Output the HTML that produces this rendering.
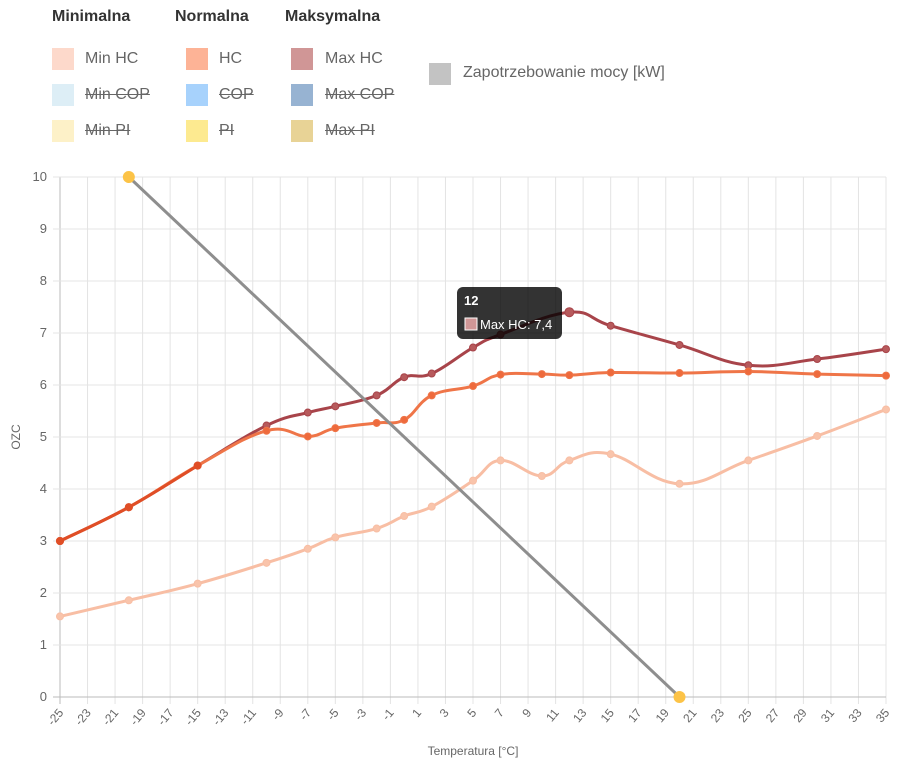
<!DOCTYPE html>
<html><head><meta charset="utf-8"><style>
body{margin:0;background:#fff;width:914px;height:773px;overflow:hidden;font-family:"Liberation Sans",sans-serif}
.lg{position:absolute;font-family:"Liberation Sans",sans-serif;font-size:16px;color:#666}
.h{position:absolute;font-weight:bold;font-size:16px;color:#333}
.sw{position:absolute;width:22px;height:22px}
.s{text-decoration:line-through}
</style></head><body>
<div class="h" style="left:52px;top:8px">Minimalna</div>
<div class="h" style="left:175px;top:8px">Normalna</div>
<div class="h" style="left:285px;top:8px">Maksymalna</div>

<div class="sw" style="left:52px;top:48px;background:#fdd9cb"></div><div class="lg" style="left:85px;top:50px">Min HC</div>
<div class="sw" style="left:52px;top:84px;background:#ddeef6"></div><div class="lg s" style="left:85px;top:86px">Min COP</div>
<div class="sw" style="left:52px;top:120px;background:#fdf1c8"></div><div class="lg s" style="left:85px;top:122px">Min PI</div>

<div class="sw" style="left:186px;top:48px;background:#fdb396"></div><div class="lg" style="left:219px;top:50px">HC</div>
<div class="sw" style="left:186px;top:84px;background:#a7d2fc"></div><div class="lg s" style="left:219px;top:86px">COP</div>
<div class="sw" style="left:186px;top:120px;background:#fdea90"></div><div class="lg s" style="left:219px;top:122px">PI</div>

<div class="sw" style="left:291px;top:48px;background:#d09696"></div><div class="lg" style="left:325px;top:50px">Max HC</div>
<div class="sw" style="left:291px;top:84px;background:#97b3d2"></div><div class="lg s" style="left:325px;top:86px">Max COP</div>
<div class="sw" style="left:291px;top:120px;background:#e8d396"></div><div class="lg s" style="left:325px;top:122px">Max PI</div>

<div class="sw" style="left:429px;top:63px;background:#c3c3c3"></div><div class="lg" style="left:463px;top:64px">Zapotrzebowanie mocy [kW]</div>

<svg id="c" width="914" height="773" style="position:absolute;left:0;top:0"></svg>
<script>
var NS="http://www.w3.org/2000/svg",svg=document.getElementById("c");
function X(t){return 60+(t+25)*826/60}
function Y(v){return 697-v*52}
function el(n,a,txt){var e=document.createElementNS(NS,n);for(var k in a)e.setAttribute(k,a[k]);if(txt!=null)e.textContent=txt;svg.appendChild(e);return e}
for(var t=-25;t<=35;t+=2){var x=X(t);el("line",{x1:x,y1:177,x2:x,y2:704,stroke:t==-25?"#bbb":"#e4e4e4","stroke-width":1});
 el("text",{x:0,y:0,"font-size":12,fill:"#666","text-anchor":"end",transform:"translate("+(x+4)+",713) rotate(-50)"},t);}
for(var v=0;v<=10;v++){var y=Y(v);el("line",{x1:53,y1:y,x2:886,y2:y,stroke:v==0?"#bbb":"#e4e4e4","stroke-width":1});
 el("text",{x:47,y:y+4,"font-size":13,fill:"#666","text-anchor":"end"},v);}
el("text",{x:473,y:755,"font-size":12,fill:"#666","text-anchor":"middle"},"Temperatura [°C]");
el("text",{x:0,y:0,"font-size":12,fill:"#666","text-anchor":"middle",transform:"translate(20,437) rotate(-90)"},"OZC");
function path(d,col,w,ptc){var p=d.map(function(a){return[X(a[0]),Y(a[1])]});
 var s="M"+p[0][0]+","+p[0][1],k=0.2;
 for(var i=0;i<p.length-1;i++){var p0=p[i-1]||p[i],p1=p[i],p2=p[i+1],p3=p[i+2]||p2;
  s+=" C"+(p1[0]+(p2[0]-p0[0])*k)+","+(p1[1]+(p2[1]-p0[1])*k)+" "+(p2[0]-(p3[0]-p1[0])*k)+","+(p2[1]-(p3[1]-p1[1])*k)+" "+p2[0]+","+p2[1];}
 el("path",{d:s,fill:"none",stroke:col,"stroke-width":w});
 p.forEach(function(q){el("circle",{cx:q[0],cy:q[1],r:3.5,fill:ptc,stroke:col,"stroke-width":1})});}
path([[-25,1.55],[-20,1.86],[-15,2.18],[-10,2.58],[-7,2.85],[-5,3.07],[-2,3.24],[0,3.48],[2,3.66],[5,4.16],[7,4.55],[10,4.25],[12,4.55],[15,4.67],[20,4.1],[25,4.55],[30,5.02],[35,5.53]],"#f8bea4",3,"#f9c4ab");
path([[-25,3],[-20,3.65],[-15,4.45],[-10,5.22],[-7,5.47],[-5,5.59],[-2,5.8],[0,6.15],[2,6.22],[5,6.72],[7,6.97],[12,7.4],[15,7.14],[20,6.77],[25,6.38],[30,6.5],[35,6.69]],"#a8444a",3,"#b75a5c");
path([[-25,3],[-20,3.65],[-15,4.45],[-10,5.12],[-7,5.01],[-5,5.17],[-2,5.27],[0,5.33],[2,5.8],[5,5.98],[7,6.2],[10,6.21],[12,6.19],[15,6.24],[20,6.23],[25,6.26],[30,6.21],[35,6.18]],"#ef7548",3,"#ee6a3c");
path([[-25,3],[-20,3.65],[-15,4.45]],"#e04e26",3,"#e04e26");
el("line",{x1:X(-20),y1:Y(10),x2:X(20),y2:Y(0),stroke:"#8e8e8e","stroke-width":3});
el("circle",{cx:X(-20),cy:Y(10),r:6,fill:"#fcc347"});
el("circle",{cx:X(20),cy:Y(0),r:6,fill:"#fcc347"});
el("rect",{x:457,y:287,width:105,height:52,rx:6,fill:"rgba(0,0,0,0.8)"});
el("text",{x:464,y:305,"font-size":13,"font-weight":"bold",fill:"#fff"},"12");
el("rect",{x:465,y:318,width:12,height:12,fill:"#d09696",stroke:"#fff","stroke-width":1});
el("text",{x:480,y:329,"font-size":13,fill:"#fff"},"Max HC: 7,4");
el("circle",{cx:X(12),cy:Y(7.4),r:4.5,fill:"#b75a5c",stroke:"#a8444a"});
</script>
</body></html>
